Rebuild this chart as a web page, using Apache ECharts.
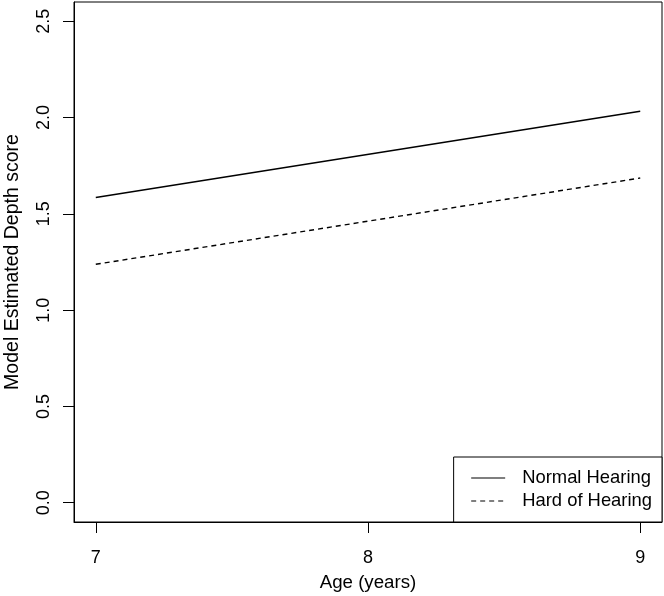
<!DOCTYPE html>
<html><head><meta charset="utf-8">
<script src="https://cdn.jsdelivr.net/npm/echarts@6/dist/echarts.min.js"></script>
<style>html,body{margin:0;padding:0;background:#fff}#c{width:664px;height:596px}</style>
</head><body><div id="c"></div>
<script>
const ages = [7, 9];
const normalHearing = [1.585, 2.033];
const hardOfHearing = [1.238, 1.686];
const xTicks = [7, 8, 9];
const yTicks = [0, 0.5, 1.0, 1.5, 2.0, 2.5];
const seriesNames = ['Normal Hearing', 'Hard of Hearing'];

const font = 'Liberation Sans, Arial, sans-serif';
const chart = echarts.init(document.getElementById('c'), null, {renderer: 'canvas'});
chart.setOption({
  animation: false,
  backgroundColor: '#fff',
  grid: {left: 74, right: 2, top: 2, bottom: 74, containLabel: false, outerBoundsMode: 'none',
         show: true, borderColor: '#000', borderWidth: 1, backgroundColor: 'transparent'},
  xAxis: {
    type: 'value', min: 6.92, max: 9.08,
    name: 'Age (years)', nameLocation: 'middle', nameGap: 51,
    nameTextStyle: {fontFamily: font, fontSize: 18.7, color: '#000'},
    axisLine: {show: true, onZero: false, lineStyle: {color: '#000'}},
    axisTick: {show: true, length: 11, lineStyle: {color: '#000'}, customValues: xTicks},
    axisLabel: {fontFamily: font, fontSize: 18, color: '#000', margin: 27, customValues: xTicks, formatter: v => String(v)},
    splitLine: {show: false}
  },
  yAxis: {
    type: 'value', min: -0.1, max: 2.6,
    name: 'Model Estimated Depth score', nameLocation: 'middle', nameGap: 51,
    nameTextStyle: {fontFamily: font, fontSize: 19.5, color: '#000'},
    axisLine: {show: true, onZero: false, lineStyle: {color: '#000'}},
    axisTick: {show: true, length: 11, lineStyle: {color: '#000'}, customValues: yTicks},
    axisLabel: {fontFamily: font, fontSize: 18, color: '#000', margin: 21, rotate: 90, customValues: yTicks, formatter: v => v.toFixed(1)},
    splitLine: {show: false}
  },
  legend: {
    orient: 'vertical', right: 2, bottom: 74,
    backgroundColor: '#fff', borderColor: '#000', borderWidth: 1, borderRadius: 0,
    padding: [12, 10, 12, 17],
    itemWidth: 34, itemHeight: 14, itemGap: 5,
    itemStyle: {opacity: 0},
    lineStyle: {width: 1.1},
    textStyle: {fontFamily: font, fontSize: 18.4, color: '#000', padding: [0, 0, 0, 12]},
    data: seriesNames
  },
  series: [
    {name: seriesNames[0], type: 'line', symbol: 'none', data: ages.map((a, i) => [a, normalHearing[i]]),
     lineStyle: {color: '#000', width: 1.4, type: 'solid'}, itemStyle: {color: '#000'}},
    {name: seriesNames[1], type: 'line', symbol: 'none', data: ages.map((a, i) => [a, hardOfHearing[i]]),
     lineStyle: {color: '#000', width: 1.4, type: [5, 4]}, itemStyle: {color: '#000'}}
  ]
});
</script></body></html>
